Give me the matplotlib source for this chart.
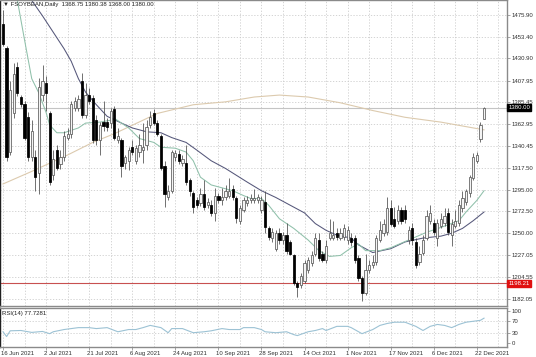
import matplotlib
matplotlib.use('Agg')
import matplotlib.pyplot as plt
import matplotlib.transforms as mtrans
import numpy as np

plt.rcParams['font.family'] = ['Liberation Sans', 'DejaVu Sans']

# daily candles, 16 Jun 2021 .. 23 Dec 2021
opens = [1467, 1442, 1334, 1374, 1422, 1391, 1384, 1370, 1329, 1329,
         1312, 1393, 1405, 1374, 1310, 1336, 1322, 1329, 1349, 1353,
         1380, 1380, 1408, 1372, 1393, 1390, 1367, 1346, 1365, 1365,
         1364, 1379, 1346, 1346, 1323, 1325, 1339, 1325, 1334, 1336,
         1341, 1362, 1374, 1364, 1351, 1320, 1287, 1294, 1329, 1332,
         1323, 1323, 1305, 1292, 1284, 1281, 1291, 1279, 1279, 1271,
         1289, 1284, 1287, 1289, 1296, 1286, 1263, 1274, 1281, 1284,
         1284, 1284, 1274, 1282, 1255, 1245, 1234, 1250, 1243, 1248,
         1241, 1227, 1199, 1196, 1201, 1212, 1219, 1229, 1243, 1229,
         1222, 1245, 1245, 1250, 1245, 1246, 1243, 1245, 1245, 1224,
         1204, 1188, 1212, 1217, 1220, 1243, 1250, 1251, 1276, 1265,
         1263, 1274, 1274, 1243, 1255, 1241, 1220, 1230, 1245, 1263,
         1261, 1245, 1258, 1261, 1271, 1248, 1258, 1261, 1276, 1282,
         1292, 1307, 1325, 1348, 1368.75]
highs = [1481, 1444, 1408, 1426, 1427, 1393, 1387, 1375, 1367, 1336,
         1411, 1424, 1413, 1377, 1336, 1341, 1336, 1356, 1359, 1387,
         1391, 1393, 1416, 1406, 1400, 1393, 1372, 1365, 1387, 1369,
         1380, 1382, 1359, 1349, 1331, 1339, 1346, 1341, 1353, 1364,
         1367, 1377, 1379, 1367, 1353, 1325, 1300, 1336, 1336, 1336,
         1331, 1341, 1307, 1294, 1287, 1297, 1305, 1286, 1284, 1297,
         1292, 1297, 1300, 1307, 1300, 1289, 1279, 1287, 1289, 1291,
         1296, 1291, 1289, 1294, 1258, 1255, 1253, 1255, 1251, 1261,
         1243, 1229, 1201, 1209, 1222, 1225, 1232, 1250, 1250, 1232,
         1243, 1265, 1263, 1255, 1255, 1260, 1258, 1250, 1248, 1227,
         1206, 1229, 1222, 1227, 1248, 1263, 1265, 1287, 1284, 1277,
         1279, 1277, 1279, 1258, 1261, 1245, 1237, 1248, 1274, 1279,
         1265, 1265, 1271, 1276, 1276, 1265, 1274, 1284, 1294, 1296,
         1310, 1333, 1334, 1365, 1380.38]
lows = [1444, 1325, 1331, 1369, 1392, 1381, 1346, 1325, 1325, 1294,
        1291, 1387, 1377, 1300, 1305, 1315, 1317, 1325, 1346, 1349,
        1377, 1377, 1369, 1369, 1384, 1343, 1341, 1331, 1356, 1356,
        1359, 1346, 1343, 1308, 1317, 1315, 1331, 1322, 1329, 1323,
        1336, 1359, 1362, 1351, 1315, 1277, 1284, 1292, 1325, 1322,
        1320, 1300, 1289, 1271, 1276, 1278, 1274, 1276, 1268, 1263,
        1281, 1279, 1284, 1286, 1284, 1261, 1260, 1272, 1278, 1281,
        1281, 1281, 1271, 1250, 1243, 1241, 1232, 1239, 1239, 1229,
        1227, 1196, 1184, 1193, 1198, 1209, 1216, 1226, 1221, 1220,
        1219, 1243, 1243, 1243, 1243, 1243, 1239, 1237, 1219, 1201,
        1180, 1186, 1209, 1214, 1217, 1241, 1247, 1248, 1257, 1255,
        1260, 1260, 1261, 1239, 1238, 1214, 1217, 1227, 1243, 1260,
        1248, 1237, 1255, 1258, 1248, 1237, 1255, 1258, 1272, 1279,
        1287, 1305, 1323, 1344, 1368.00]
closes = [1446, 1329, 1398, 1415, 1395, 1384, 1349, 1329, 1356, 1308,
          1401, 1408, 1395, 1303, 1327, 1318, 1329, 1351, 1353, 1384,
          1387, 1389, 1372, 1393, 1387, 1346, 1346, 1362, 1361, 1360,
          1377, 1349, 1351, 1320, 1329, 1336, 1334, 1338, 1341, 1339,
          1360, 1370, 1364, 1353, 1318, 1291, 1294, 1334, 1333, 1325,
          1327, 1303, 1294, 1277, 1279, 1291, 1277, 1282, 1271, 1289,
          1284, 1287, 1294, 1294, 1287, 1266, 1276, 1284, 1284, 1286,
          1286, 1287, 1284, 1256, 1246, 1251, 1250, 1243, 1248, 1232,
          1229, 1198, 1194, 1206, 1219, 1222, 1227, 1245, 1224, 1222,
          1237, 1250, 1248, 1246, 1250, 1255, 1253, 1241, 1222, 1204,
          1188, 1212, 1217, 1220, 1245, 1253, 1260, 1276, 1260, 1258,
          1274, 1263, 1265, 1253, 1243, 1217, 1229, 1243, 1268, 1271,
          1251, 1261, 1265, 1268, 1251, 1260, 1263, 1279, 1286, 1294,
          1308, 1329, 1331, 1362, 1380.00]

# moving averages, read at a few bars
ma_fast_idx = [4, 6, 8, 10, 12, 13, 15, 17, 21, 23, 27, 30, 31, 33, 35, 38, 42, 44,
               48, 51, 53, 55, 58, 61, 64, 67, 69, 72, 74, 77, 81, 85, 88, 91, 94,
               97, 99, 101, 105, 108, 113, 118, 122, 127, 129, 132, 134]
ma_fast = [1491, 1450, 1410, 1395, 1375, 1362, 1354, 1354, 1359, 1364, 1365, 1367,
           1369, 1364, 1359, 1348, 1344, 1339, 1338, 1334, 1325, 1308, 1300, 1297,
           1294, 1289, 1286, 1286, 1279, 1265, 1255, 1243, 1232, 1226, 1227, 1235,
           1239, 1232, 1232, 1235, 1243, 1251, 1256, 1263, 1272, 1284, 1294]
ma_slow_idx = [8, 11, 14, 17, 19, 21, 23, 26, 29, 33, 36, 40, 44, 47, 51, 54, 58,
               62, 65, 68, 72, 76, 80, 84, 87, 90, 93, 97, 99, 103, 108, 112, 117,
               122, 125, 128, 131, 134]
ma_slow = [1491, 1475, 1458, 1441, 1428, 1410, 1396, 1383, 1371, 1364, 1359, 1355,
           1354, 1349, 1344, 1336, 1325, 1317, 1310, 1303, 1294, 1287, 1279, 1271,
           1260, 1253, 1248, 1245, 1238, 1230, 1234, 1241, 1245, 1247, 1250, 1255,
           1263, 1272]
ma_long_idx = [0, 8, 18, 25, 31, 35, 43, 53, 62, 70, 77, 85, 94, 103, 112, 122, 134]
ma_long = [1301, 1314, 1331, 1344, 1353, 1360, 1374, 1383, 1386, 1391, 1393, 1391,
           1385, 1377, 1370, 1365, 1357]

rsi_idx = [0, 1, 2, 5, 8, 11, 13, 14, 17, 19, 21, 24, 26, 29, 32, 35, 37, 39, 41, 44,
           46, 47, 50, 53, 56, 58, 61, 63, 66, 67, 70, 72, 73, 76, 79, 81, 82, 85, 87,
           89, 90, 93, 96, 97, 100, 103, 105, 107, 109, 112, 115, 117, 119, 121, 123,
           125, 127, 129, 133, 134]
rsi = [35, 20, 38, 39, 33, 36, 29, 35, 42, 45, 48, 48, 45, 48, 35, 42, 42, 48, 55, 48,
       32, 45, 45, 32, 35, 38, 45, 42, 42, 48, 48, 42, 35, 32, 35, 26, 23, 35, 39,
       45, 39, 52, 52, 48, 29, 42, 55, 61, 65, 65, 52, 39, 52, 58, 55,
       48, 58, 65, 71, 77.73]

date_idx = [0, 12, 24, 36, 48, 60, 72, 84, 96, 108, 120, 132]
date_labels = ['16 Jun 2021', '2 Jul 2021', '21 Jul 2021', '6 Aug 2021', '24 Aug 2021',
               '10 Sep 2021', '28 Sep 2021', '14 Oct 2021', '1 Nov 2021', '17 Nov 2021',
               '6 Dec 2021', '22 Dec 2021']
price_ticks = [1475.90, 1453.40, 1430.90, 1407.95, 1385.45, 1362.95, 1340.45,
               1317.50, 1295.00, 1272.50, 1250.00, 1227.05, 1204.55, 1182.05]
rsi_ticks = [100, 70, 30, 0]
last_price = 1380.00
support = 1198.21

FS = 4.3

W, H = 536.0, 357.0
fig = plt.figure(figsize=(W / 100, H / 100), dpi=100)
ax = fig.add_axes([0, (H - 306) / H, 507 / W, 306 / H])
axr = fig.add_axes([0, (H - 347) / H, 507 / W, 39 / H], sharex=ax)

grid_kw = dict(color='#cccccc', lw=0.6, ls=(0, (1.5, 2)), zorder=0)
for k in range(0, 141, 6):
    ax.axvline(k, **grid_kw)
    axr.axvline(k, **grid_kw)
for p in price_ticks:
    ax.axhline(p, **grid_kw)
for r in [70, 30]:
    axr.axhline(r, **grid_kw)

o = np.array(opens, float)
h = np.array(highs, float)
l = np.array(lows, float)
c = np.array(closes, float)
x = np.arange(len(c))
up = c >= o

ax.vlines(x, np.minimum(l, np.minimum(o, c)), np.maximum(h, np.maximum(o, c)),
          color='#4a4a4a', lw=0.55, zorder=3)
body_lo = np.minimum(o, c)
body_h = np.maximum(np.abs(c - o), 0.8)
ax.bar(x[up], body_h[up], bottom=body_lo[up], width=0.62, color='#f4f4f4',
       edgecolor='#5a5a5a', lw=0.55, zorder=4)
ax.bar(x[~up], body_h[~up], bottom=body_lo[~up], width=0.62, color='black',
       edgecolor='black', lw=0.55, zorder=4)

ax.plot(ma_long_idx, ma_long, color='#dccaae', lw=0.8, zorder=2)
ax.plot(ma_slow_idx, ma_slow, color='#55577a', lw=0.75, zorder=2)
ax.plot(ma_fast_idx, ma_fast, color='#8fc0aa', lw=0.75, zorder=2)

ax.axhline(last_price, color='#c4c4c4', lw=0.8, zorder=1)
ax.axhline(support, color='#c85050', lw=0.8, zorder=1)

ax.set_xlim(-0.84, 140.4)
ax.set_ylim(1491.4 - 1.035 * 306, 1491.4)

ax.yaxis.tick_right()
ax.set_yticks(price_ticks)
ax.set_yticklabels(['%.2f' % p for p in price_ticks])
ax.tick_params(axis='y', labelsize=FS, length=2, width=0.5, color='#808080', pad=1.2,
               labelcolor='#303030')
ax.tick_params(axis='x', bottom=False, labelbottom=False)

for lab, val, bg in [('1380.00', last_price, 'black'), ('1198.21', support, '#e01010')]:
    ax.annotate(lab, xy=(1.0, val), xycoords=('axes fraction', 'data'),
                xytext=(1.0, 0), textcoords='offset points', va='center', ha='left',
                fontsize=FS, color='white', annotation_clip=False,
                bbox=dict(boxstyle='square,pad=0.15', fc=bg, ec=bg))

ax.text(0.006, 0.993, '\u25bc FSOYBEAN,Daily  1368.75 1380.38 1368.00 1380.00',
        transform=ax.transAxes, va='top', ha='left', fontsize=FS, color='#202020')

axr.plot(rsi_idx, rsi, color='#9cc2d4', lw=0.8, zorder=2)
axr.set_ylim(-12.9, 109.7)
axr.yaxis.tick_right()
axr.set_yticks(rsi_ticks)
axr.set_yticklabels([str(v) for v in rsi_ticks])
axr.tick_params(axis='y', labelsize=FS, length=2, width=0.5, color='#808080', pad=1.2,
                labelcolor='#303030')
axr.set_xticks(date_idx)
axr.set_xticklabels(date_labels, ha='left')
axr.tick_params(axis='x', labelsize=FS, length=2, width=0.5, color='#808080', pad=1.2,
                labelcolor='#303030')
shift = mtrans.ScaledTranslation(-2 / 100, 0, fig.dpi_scale_trans)
for t in axr.get_xticklabels():
    t.set_transform(t.get_transform() + shift)
axr.text(0.004, 0.93, 'RSI(14) 77.7281', transform=axr.transAxes, va='top', ha='left',
         fontsize=FS, color='#202020')

for a in (ax, axr):
    for s in a.spines.values():
        s.set_color('#8a8a8a')
        s.set_linewidth(1.0)
    a.spines['left'].set_color('#202020')

fig.savefig('out.png', dpi=100)
